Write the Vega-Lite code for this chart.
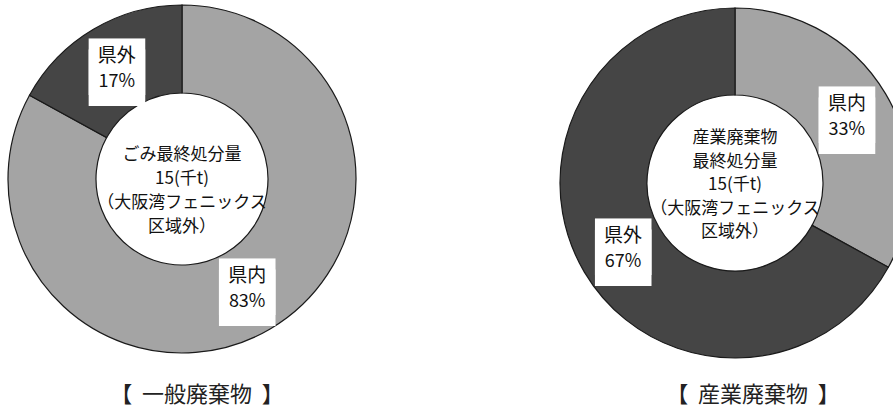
{
  "$schema": "https://vega.github.io/schema/vega-lite/v6.json",
  "padding": {"left": 0, "top": 0, "right": 0, "bottom": 8},
  "background": "white",
  "spacing": 193,
  "config": {"view": {"stroke": null}},
  "datasets": {
    "shares": [
      {"chart": "一般廃棄物", "area": "県内", "share": 0.83, "order": 1},
      {"chart": "一般廃棄物", "area": "県外", "share": 0.17, "order": 2},
      {"chart": "産業廃棄物", "area": "県内", "share": 0.33, "order": 1},
      {"chart": "産業廃棄物", "area": "県外", "share": 0.67, "order": 2}
    ],
    "notes": [
      {"chart": "一般廃棄物", "note": "ごみ最終処分量\n15(千t)\n（大阪湾フェニックス\n区域外）"},
      {"chart": "産業廃棄物", "note": "産業廃棄物\n最終処分量\n15(千t)\n（大阪湾フェニックス\n区域外）"}
    ]
  },
  "hconcat": [
    {
      "width": 364,
      "height": 358,
      "title": {"text": "【\u00a0\u00a0一般廃棄物\u00a0\u00a0】", "orient": "bottom", "offset": 27, "dx": 15, "fontSize": 22, "fontWeight": "normal", "font": "Noto Sans CJK JP", "color": "#222222", "baseline": "top"},
      "layer": [
        {
          "data": {"name": "shares"},
          "transform": [{"filter": "datum.chart === '一般廃棄物'"}],
          "mark": {"type": "arc", "radius": 174, "radius2": 86, "stroke": "#1a1a1a", "strokeWidth": 1.2},
          "encoding": {
            "theta": {"field": "share", "type": "quantitative", "stack": true},
            "order": {"field": "order", "type": "quantitative"},
            "color": {"field": "area", "type": "nominal", "scale": {"domain": ["県内", "県外"], "range": ["#a4a4a4", "#454545"]}, "legend": null}
          }
        },
        {
          "data": {"name": "shares"},
          "transform": [{"filter": "datum.chart === '一般廃棄物'"}],
          "mark": {"type": "text", "radius": 128, "text": "■", "dy": -5, "font": "DejaVu Sans", "fontSize": 74, "color": "white", "baseline": "middle", "align": "center"},
          "encoding": {
            "theta": {"field": "share", "type": "quantitative", "stack": true},
            "order": {"field": "order", "type": "quantitative"}
          }
        },
        {
          "data": {"name": "shares"},
          "transform": [{"filter": "datum.chart === '一般廃棄物'"}],
          "mark": {"type": "text", "radius": 128, "text": "■", "dy": 6, "font": "DejaVu Sans", "fontSize": 74, "color": "white", "baseline": "middle", "align": "center"},
          "encoding": {
            "theta": {"field": "share", "type": "quantitative", "stack": true},
            "order": {"field": "order", "type": "quantitative"}
          }
        },
        {
          "data": {"name": "shares"},
          "transform": [{"filter": "datum.chart === '一般廃棄物'"}],
          "mark": {"type": "text", "radius": 128, "dy": -13, "font": "Noto Sans CJK JP", "fontSize": 19, "color": "#111111"},
          "encoding": {
            "theta": {"field": "share", "type": "quantitative", "stack": true},
            "order": {"field": "order", "type": "quantitative"},
            "text": {"field": "area", "type": "nominal"}
          }
        },
        {
          "data": {"name": "shares"},
          "transform": [{"filter": "datum.chart === '一般廃棄物'"}],
          "mark": {"type": "text", "radius": 128, "dy": 13, "font": "Noto Sans CJK JP", "fontSize": 18, "color": "#111111"},
          "encoding": {
            "theta": {"field": "share", "type": "quantitative", "stack": true},
            "order": {"field": "order", "type": "quantitative"},
            "text": {"field": "share", "type": "quantitative", "format": ".0%"}
          }
        },
        {
          "data": {"name": "notes"},
          "transform": [{"filter": "datum.chart === '一般廃棄物'"}],
          "mark": {"type": "text", "lineBreak": "\n", "lineHeight": 24, "dy": -24, "font": "Noto Sans CJK JP", "fontSize": 17, "color": "#111111", "align": "center", "baseline": "middle"},
          "encoding": {"text": {"field": "note", "type": "nominal"}}
        }
      ]
    },
    {
      "width": 350,
      "height": 366,
      "title": {"text": "【\u00a0\u00a0産業廃棄物\u00a0\u00a0】", "orient": "bottom", "offset": 19, "dx": 18, "fontSize": 22, "fontWeight": "normal", "font": "Noto Sans CJK JP", "color": "#222222", "baseline": "top"},
      "layer": [
        {
          "data": {"name": "shares"},
          "transform": [{"filter": "datum.chart === '産業廃棄物'"}],
          "mark": {"type": "arc", "radius": 175, "radius2": 88, "stroke": "#1a1a1a", "strokeWidth": 1.2},
          "encoding": {
            "theta": {"field": "share", "type": "quantitative", "stack": true},
            "order": {"field": "order", "type": "quantitative"},
            "color": {"field": "area", "type": "nominal", "scale": {"domain": ["県内", "県外"], "range": ["#a4a4a4", "#454545"]}, "legend": null}
          }
        },
        {
          "data": {"name": "shares"},
          "transform": [{"filter": "datum.chart === '産業廃棄物'"}],
          "mark": {"type": "text", "radius": 130, "text": "■", "dy": -5, "font": "DejaVu Sans", "fontSize": 74, "color": "white", "baseline": "middle", "align": "center"},
          "encoding": {
            "theta": {"field": "share", "type": "quantitative", "stack": true},
            "order": {"field": "order", "type": "quantitative"}
          }
        },
        {
          "data": {"name": "shares"},
          "transform": [{"filter": "datum.chart === '産業廃棄物'"}],
          "mark": {"type": "text", "radius": 130, "text": "■", "dy": 6, "font": "DejaVu Sans", "fontSize": 74, "color": "white", "baseline": "middle", "align": "center"},
          "encoding": {
            "theta": {"field": "share", "type": "quantitative", "stack": true},
            "order": {"field": "order", "type": "quantitative"}
          }
        },
        {
          "data": {"name": "shares"},
          "transform": [{"filter": "datum.chart === '産業廃棄物'"}],
          "mark": {"type": "text", "radius": 130, "dy": -13, "font": "Noto Sans CJK JP", "fontSize": 19, "color": "#111111"},
          "encoding": {
            "theta": {"field": "share", "type": "quantitative", "stack": true},
            "order": {"field": "order", "type": "quantitative"},
            "text": {"field": "area", "type": "nominal"}
          }
        },
        {
          "data": {"name": "shares"},
          "transform": [{"filter": "datum.chart === '産業廃棄物'"}],
          "mark": {"type": "text", "radius": 130, "dy": 13, "font": "Noto Sans CJK JP", "fontSize": 18, "color": "#111111"},
          "encoding": {
            "theta": {"field": "share", "type": "quantitative", "stack": true},
            "order": {"field": "order", "type": "quantitative"},
            "text": {"field": "share", "type": "quantitative", "format": ".0%"}
          }
        },
        {
          "data": {"name": "notes"},
          "transform": [{"filter": "datum.chart === '産業廃棄物'"}],
          "mark": {"type": "text", "lineBreak": "\n", "lineHeight": 23.5, "dy": -45, "font": "Noto Sans CJK JP", "fontSize": 17, "color": "#111111", "align": "center", "baseline": "middle"},
          "encoding": {"text": {"field": "note", "type": "nominal"}}
        }
      ]
    }
  ]
}
